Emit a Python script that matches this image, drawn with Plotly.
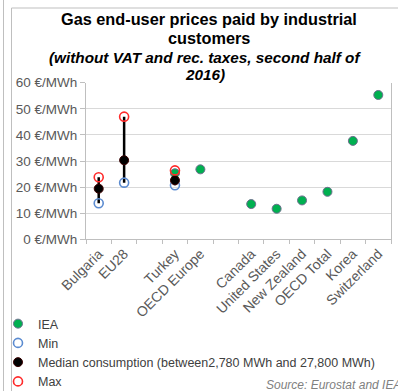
import plotly.graph_objects as go

# Countries / regions along the x axis (blank slots separate the groups)
categories = ["Bulgaria", "EU28", "", "Turkey", "OECD Europe", "",
              "Canada", "United States", "New Zealand", "OECD Total",
              "Korea", "Switzerland"]

# Prices in €/MWh (None = no value for that slot)
iea_price = [None, None, None, 25.3, 26.8, None, 13.5, 11.7, 14.9, 18.2, 37.7, 55.3]
min_price = [13.8, 21.7, None, 20.7, None, None, None, None, None, None, None, None]
median_price = [19.4, 30.3, None, 22.6, None, None, None, None, None, None, None, None]
max_price = [23.8, 47.0, None, 26.4, None, None, None, None, None, None, None, None]

y_ticks = [0, 10, 20, 30, 40, 50, 60]
y_tick_labels = [f"{v} €/MWh" for v in y_ticks]

title_lines = ["Gas end-user prices paid by industrial", "customers"]
subtitle_lines = ["(without VAT and rec. taxes, second half of", "2016)"]

W, H = 398, 391
FONT = "Arial, Liberation Sans, sans-serif"


def px_x(x):
    return x / W


def px_y(y):
    return 1 - y / H


xs = list(range(len(categories)))

# min-to-max range bars
bar_x, bar_y = [], []
for i, (lo, hi) in enumerate(zip(min_price, max_price)):
    if lo is not None and hi is not None:
        bar_x += [i, i, None]
        bar_y += [lo, hi, None]

fig = go.Figure()
fig.add_trace(go.Scatter(x=bar_x, y=bar_y, mode="lines",
                         line=dict(color="black", width=2.5),
                         showlegend=False, hoverinfo="skip"))
fig.add_trace(go.Scatter(x=xs, y=iea_price, mode="markers", name="IEA",
                         marker=dict(symbol="circle", size=9, color="#00B050",
                                     line=dict(color="#6E6E8E", width=1))))
fig.add_trace(go.Scatter(x=xs, y=min_price, mode="markers", name="Min",
                         marker=dict(symbol="circle-open", size=9, color="#5B8BD0",
                                     line=dict(width=1.6))))
fig.add_trace(go.Scatter(x=xs, y=median_price, mode="markers",
                         name="Median consumption (between2,780 MWh and 27,800 MWh)",
                         marker=dict(symbol="circle", size=9, color="black",
                                     line=dict(color="#3A0000", width=1))))
fig.add_trace(go.Scatter(x=xs, y=max_price, mode="markers", name="Max",
                         marker=dict(symbol="circle-open", size=9, color="#FF2A2A",
                                     line=dict(width=1.6))))

annotations = []
for text, yc in zip(title_lines, [19, 38.5]):
    annotations.append(dict(text=f"<b>{text}</b>", x=px_x(209), y=px_y(yc),
                            xref="paper", yref="paper", xanchor="center",
                            yanchor="middle", showarrow=False,
                            font=dict(size=16.3, color="black", family=FONT)))
for text, yc in zip(subtitle_lines, [57.5, 74]):
    annotations.append(dict(text=f"<b><i>{text}</i></b>", x=px_x(205), y=px_y(yc),
                            xref="paper", yref="paper", xanchor="center",
                            yanchor="middle", showarrow=False,
                            font=dict(size=15.3, color="black", family=FONT)))
annotations.append(dict(text="<i>Source: Eurostat and IEA</i>",
                        x=px_x(264), y=px_y(385), xref="paper", yref="paper",
                        xanchor="left", yanchor="middle", showarrow=False,
                        font=dict(size=12, color="#808080", family=FONT)))

fig.update_layout(
    width=W, height=H,
    margin=dict(l=0, r=0, t=0, b=0, autoexpand=False),
    paper_bgcolor="white", plot_bgcolor="white",
    font=dict(family=FONT, color="#595959", size=13),
    showlegend=True,
    legend=dict(x=px_x(-2), y=px_y(309), xanchor="left", yanchor="top",
                font=dict(size=12.5, color="#404040"), tracegroupgap=0,
                itemwidth=30, bgcolor="rgba(0,0,0,0)"),
    xaxis=dict(
        domain=[px_x(86), px_x(391)],
        range=[-0.5, len(categories) - 0.5],
        tickmode="array", tickvals=xs, ticktext=categories,
        tickangle=-45, ticks="", showgrid=False, zeroline=False,
        showline=True, linecolor="#BFBFBF", linewidth=1,
        tickfont=dict(size=14, color="#595959"),
        minor=dict(tickmode="array",
                   tickvals=[i - 0.5 for i in range(len(categories) + 1)],
                   ticks="outside", ticklen=4, tickcolor="#BFBFBF", showgrid=False),
        fixedrange=True,
    ),
    yaxis=dict(
        domain=[px_y(239.3), px_y(82.7)],
        range=[0, 60],
        tickmode="array", tickvals=y_ticks, ticktext=y_tick_labels,
        showgrid=True, gridcolor="#D9D9D9", gridwidth=1, zeroline=False,
        showline=True, linecolor="#BFBFBF", linewidth=1, mirror=True,
        ticks="outside", ticklen=5, tickcolor="#BFBFBF",
        tickfont=dict(size=13.5, color="#595959"),
        fixedrange=True,
    ),
    annotations=annotations,
    shapes=[
        dict(type="line", xref="paper", yref="paper",
             x0=px_x(3.5), x1=px_x(3.5), y0=0, y1=1,
             line=dict(color="#BFBFBF", width=1)),
        dict(type="line", xref="paper", yref="paper",
             x0=px_x(11.5), x1=px_x(11.5), y0=0, y1=px_y(8),
             line=dict(color="#BFBFBF", width=1)),
        dict(type="line", xref="paper", yref="paper",
             x0=px_x(11.5), x1=1, y0=px_y(8), y1=px_y(8),
             line=dict(color="#BFBFBF", width=1)),
    ],
)

fig.write_html("out.html")
